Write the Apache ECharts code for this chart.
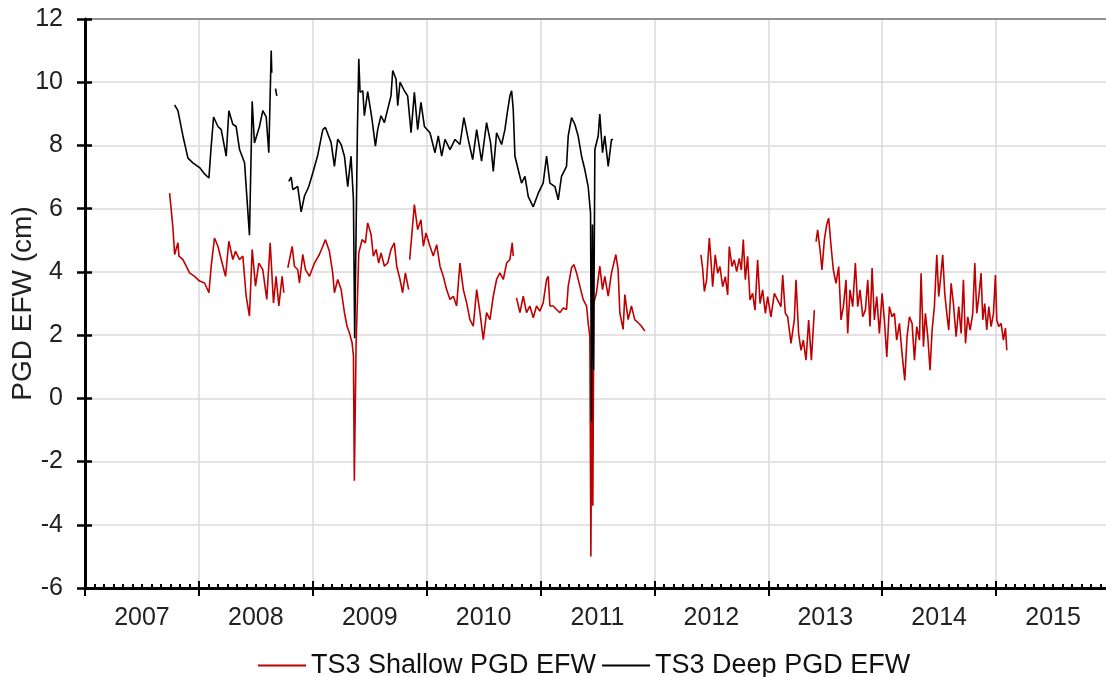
<!DOCTYPE html>
<html><head><meta charset="utf-8">
<script src="https://cdn.jsdelivr.net/npm/echarts@6/dist/echarts.min.js"></script>
<style>html,body{margin:0;padding:0;background:#fff}#c{width:1106px;height:677px}</style>
</head><body><div id="c"></div>
<script>
const yearLabels = ['2007','2008','2009','2010','2011','2012','2013','2014','2015'];
const xMin = 2007, xMax = 2016;
const yMin = -6, yMax = 12, yStep = 2;

// TS3 Shallow PGD EFW (null = data gap)
const shallowYears = [
2007.743,2007.772,2007.787,2007.816,2007.825,2007.860,2007.889,2007.918,2007.962,2008.006,2008.050,2008.088,2008.108,2008.137,2008.167,2008.196,2008.234,2008.263,2008.298,2008.322,2008.357,2008.386,2008.415,2008.444,2008.468,2008.497,2008.526,2008.561,2008.596,2008.626,2008.655,2008.678,2008.702,2008.731,2008.746,
2008.765,
2008.781,2008.819,2008.839,2008.868,2008.883,2008.912,2008.936,2008.971,2009.015,2009.058,2009.088,2009.111,2009.146,2009.175,2009.190,2009.219,2009.249,2009.278,2009.301,2009.322,2009.345,2009.357,2009.365,2009.380,2009.404,2009.433,2009.462,2009.482,2009.512,2009.532,2009.556,2009.579,2009.599,2009.629,2009.658,2009.687,2009.716,2009.737,2009.766,2009.789,2009.813,2009.842,
2009.846,
2009.851,2009.892,2009.921,2009.950,2009.971,2009.994,2010.029,2010.058,2010.088,2010.117,2010.146,2010.175,2010.205,2010.234,2010.263,2010.292,2010.322,2010.351,2010.380,2010.409,2010.439,2010.468,2010.497,2010.526,2010.556,2010.585,2010.614,2010.643,2010.673,2010.702,2010.731,2010.751,2010.760,
2010.775,
2010.789,2010.819,2010.848,2010.877,2010.906,2010.936,2010.965,2010.994,2011.023,2011.053,2011.067,2011.082,2011.111,2011.140,2011.170,2011.199,2011.228,2011.243,2011.272,2011.292,2011.316,2011.345,2011.374,2011.404,2011.418,2011.433,2011.442,2011.450,2011.459,2011.468,2011.491,2011.520,2011.544,2011.564,2011.594,2011.623,2011.661,2011.681,2011.696,2011.725,2011.740,2011.769,2011.798,2011.827,2011.857,2011.886,2011.915,
2012.100,
2012.408,2012.423,2012.438,2012.458,2012.482,2012.496,2012.511,2012.534,2012.555,2012.575,2012.599,2012.622,2012.643,2012.657,2012.681,2012.701,2012.722,2012.745,2012.763,2012.780,2012.798,2012.818,2012.839,2012.862,2012.883,2012.906,2012.927,2012.950,2012.974,2012.994,2013.023,2013.053,2013.082,2013.111,2013.126,2013.149,2013.170,2013.199,2013.228,2013.243,2013.266,2013.287,2013.307,2013.331,2013.354,2013.378,2013.404,
2013.411,
2013.419,2013.433,2013.454,2013.471,2013.492,2013.512,2013.530,2013.551,2013.571,2013.594,2013.618,2013.638,2013.659,2013.682,2013.697,2013.717,2013.741,2013.764,2013.785,2013.805,2013.829,2013.852,2013.873,2013.893,2013.911,2013.931,2013.952,2013.975,2013.999,2014.019,2014.040,2014.063,2014.086,2014.107,2014.127,2014.151,2014.174,2014.198,2014.218,2014.239,2014.262,2014.283,2014.303,2014.327,2014.341,2014.362,2014.379,2014.400,2014.420,2014.438,2014.458,2014.479,2014.496,2014.514,2014.531,2014.549,2014.567,2014.584,2014.605,2014.625,2014.649,2014.672,2014.693,2014.713,2014.731,2014.751,2014.772,2014.795,2014.813,2014.830,2014.848,2014.868,2014.883,2014.900,2014.918,2014.936,2014.956,2014.977,2014.994,2015.006,2015.023,2015.044,2015.064,2015.082,2015.094
];
const shallowValues = [
6.49,5.39,4.55,4.92,4.50,4.39,4.18,3.97,3.86,3.71,3.65,3.34,4.18,5.07,4.81,4.39,3.86,4.97,4.39,4.65,4.39,4.50,3.23,2.60,4.71,3.55,4.28,4.07,3.13,4.92,3.02,3.86,2.92,3.86,3.34,
null,
4.13,4.81,4.18,4.07,3.65,4.55,4.07,3.86,4.28,4.55,4.81,5.02,4.65,3.97,3.34,3.76,3.44,2.71,2.28,2.07,1.76,1.34,-2.61,1.65,4.60,5.02,4.92,5.55,5.18,4.50,4.71,4.28,4.60,4.18,4.28,4.71,4.92,4.18,3.76,3.34,3.97,3.44,
null,
4.39,6.13,5.34,5.65,4.81,5.23,4.81,4.50,4.86,4.18,3.86,3.44,3.13,3.23,2.92,4.28,3.44,3.02,2.49,2.28,3.44,2.71,1.86,2.71,2.49,3.23,3.76,3.97,3.76,4.28,4.39,4.92,4.50,
null,
3.18,2.71,3.23,2.71,2.92,2.55,2.92,2.76,3.02,3.76,3.86,2.92,2.92,2.81,2.71,2.86,2.81,3.55,4.13,4.23,3.97,3.55,3.13,2.92,2.39,1.97,-5.00,0.90,-3.40,3.02,3.34,4.18,3.44,3.86,3.23,3.97,4.55,4.07,2.71,2.18,3.28,2.49,2.92,2.49,2.39,2.28,2.13,
null,
4.54,4.12,3.38,3.75,5.07,4.38,3.53,4.54,3.96,4.17,3.53,3.85,3.27,4.80,4.17,4.38,4.01,4.43,4.06,5.02,3.75,4.49,3.11,3.32,2.79,4.38,3.00,3.43,2.69,3.22,2.58,3.32,3.11,2.90,3.90,2.69,2.58,1.74,2.48,3.75,2.05,1.52,1.84,1.21,2.48,1.21,2.79,
null,
4.96,5.33,4.70,4.06,5.02,5.49,5.70,4.80,4.06,3.64,4.17,2.48,2.90,3.75,2.05,3.43,2.90,4.28,2.90,3.43,2.58,2.79,3.75,2.27,4.12,2.48,3.22,2.05,3.32,2.48,1.31,2.90,2.58,2.69,1.84,2.37,1.42,0.57,1.95,2.58,2.37,1.21,2.27,1.84,3.96,1.63,2.69,1.95,0.89,2.16,2.90,4.54,3.22,3.85,4.54,3.32,2.69,2.16,3.64,3.00,1.95,2.90,2.05,3.75,1.74,2.58,2.16,2.69,4.28,2.69,3.22,3.96,2.48,3.00,2.16,2.90,2.27,2.69,3.90,2.48,2.27,2.37,1.84,2.22,1.52
];

// TS3 Deep PGD EFW (null = data gap)
const deepYears = [
2007.787,2007.816,2007.860,2007.904,2007.947,2008.006,2008.050,2008.088,2008.108,2008.129,2008.167,2008.196,2008.240,2008.263,2008.298,2008.327,2008.357,2008.401,2008.444,2008.468,2008.488,2008.532,2008.561,2008.591,2008.614,2008.635,2008.640,
2008.660,
2008.673,2008.684,
2008.740,
2008.789,2008.810,2008.825,2008.868,2008.898,2008.927,2008.965,2009.000,2009.044,2009.088,2009.111,2009.161,2009.190,2009.219,2009.249,2009.278,2009.307,2009.336,2009.357,2009.368,2009.392,2009.404,2009.415,2009.439,2009.453,2009.482,2009.497,2009.520,2009.550,2009.570,2009.599,2009.629,2009.658,2009.687,2009.702,2009.731,2009.746,2009.766,2009.804,2009.833,2009.863,2009.892,2009.921,2009.950,2009.980,2010.029,2010.073,2010.102,2010.132,2010.161,2010.205,2010.249,2010.292,2010.327,2010.365,2010.404,2010.439,2010.482,2010.526,2010.561,2010.585,2010.614,2010.658,2010.687,2010.708,2010.731,2010.746,2010.760,2010.775,2010.804,2010.833,2010.863,2010.892,2010.936,2010.980,2011.023,2011.053,2011.082,2011.126,2011.155,2011.184,2011.228,2011.243,2011.272,2011.301,2011.330,2011.360,2011.389,2011.418,2011.439,2011.447,2011.456,2011.465,2011.477,2011.506,2011.520,2011.544,2011.564,2011.594,2011.623,2011.637
];
const deepValues = [
9.28,9.10,8.30,7.60,7.45,7.30,7.10,6.97,7.98,8.90,8.60,8.50,7.66,9.10,8.67,8.60,7.87,7.45,5.16,9.40,8.08,8.60,9.10,8.90,7.77,11.00,10.30,
null,
9.80,9.57,
null,
6.86,7.00,6.60,6.70,5.90,6.40,6.70,7.13,7.70,8.50,8.57,8.09,7.34,8.20,8.03,7.66,6.70,7.66,6.28,1.90,8.50,10.74,9.68,9.73,8.94,9.70,9.36,8.83,7.98,8.50,8.94,8.72,9.15,9.57,10.37,10.10,9.26,10.00,9.73,9.57,8.40,9.68,8.50,9.36,8.60,8.40,7.77,8.30,7.66,8.19,7.87,8.19,8.03,8.88,8.19,7.55,8.50,7.50,8.72,8.09,7.18,8.40,8.03,8.50,9.04,9.57,9.73,9.15,7.66,7.23,6.81,7.02,6.38,6.06,6.49,6.81,7.66,6.81,6.70,6.28,7.02,7.34,8.30,8.88,8.67,8.30,7.66,7.23,6.70,5.85,-0.73,5.50,0.90,7.87,8.30,8.99,7.77,8.30,7.34,8.19,8.19
];

function pairs(xs, ys) {
  return xs.map((x, i) => [x, ys[i] === null ? '-' : ys[i]]);
}

const chart = echarts.init(document.getElementById('c'), null, {renderer: 'canvas'});
const FONT = '"Liberation Sans", Arial, sans-serif';
chart.setOption({
  animation: false,
  backgroundColor: '#fff',
  grid: {left: 85, top: 19, width: 1025, height: 569, containLabel: false, outerBoundsMode: 'none'},
  legend: {
    left: 253, top: 647, itemWidth: 48, itemHeight: 2, itemGap: 6, icon: 'rect',
    textStyle: {fontSize: 27, color: '#111', fontFamily: FONT},
    data: ['TS3 Shallow PGD EFW', 'TS3 Deep PGD EFW']
  },
  xAxis: [
    {
      type: 'value', min: xMin, max: xMax, interval: 1, position: 'bottom',
      axisLine: {onZero: false, lineStyle: {color: '#000', width: 3}},
      axisTick: {show: true, inside: true, length: 7, lineStyle: {color: '#000', width: 2}},
      minorTick: {show: true, splitNumber: 12, length: 4, lineStyle: {color: '#000', width: 2}},
      axisLabel: {show: false},
      splitLine: {show: true, lineStyle: {color: '#dadada', width: 1.5}}
    },
    {
      type: 'category', data: yearLabels, boundaryGap: true, position: 'bottom',
      axisLine: {show: false, onZero: false},
      axisTick: {show: true, inside: false, length: 8, interval: 0, lineStyle: {color: '#000', width: 2}},
      axisLabel: {show: true, interval: 0, fontSize: 25, color: '#222', margin: 18, fontFamily: FONT},
      splitLine: {show: false}
    },
    {
      type: 'value', min: xMin, max: xMax, position: 'top',
      axisLine: {show: true, onZero: false, lineStyle: {color: '#777', width: 1.5}},
      axisTick: {show: false}, axisLabel: {show: false}, splitLine: {show: false}
    }
  ],
  yAxis: [
    {
      type: 'value', min: yMin, max: yMax, interval: yStep, position: 'left',
      name: 'PGD EFW (cm)', nameLocation: 'middle', nameGap: 48, nameMoveOverlap: false,
      nameTextStyle: {fontSize: 28, color: '#222', fontFamily: FONT},
      axisLine: {show: true, onZero: false, lineStyle: {color: '#000', width: 3}},
      axisTick: {show: true, inside: false, length: 8, lineStyle: {color: '#000', width: 2.5}},
      axisLabel: {fontSize: 25, color: '#222', margin: 22, fontFamily: FONT},
      splitLine: {show: true, lineStyle: {color: '#dadada', width: 1.5}}
    },
    {
      type: 'value', min: yMin, max: yMax, interval: yStep, position: 'left',
      axisLine: {show: false, onZero: false},
      axisTick: {show: true, inside: true, length: 7, lineStyle: {color: '#000', width: 2.5}},
      axisLabel: {show: false}, splitLine: {show: false}
    }
  ],
  series: [
    {
      name: 'TS3 Shallow PGD EFW', type: 'line', xAxisIndex: 0, yAxisIndex: 0,
      data: pairs(shallowYears, shallowValues), symbol: 'none', showSymbol: false,
      connectNulls: false, lineStyle: {color: '#c00000', width: 1.6}, itemStyle: {color: '#c00000'}
    },
    {
      name: 'TS3 Deep PGD EFW', type: 'line', xAxisIndex: 0, yAxisIndex: 0,
      data: pairs(deepYears, deepValues), symbol: 'none', showSymbol: false,
      connectNulls: false, lineStyle: {color: '#000', width: 1.6}, itemStyle: {color: '#000'}
    }
  ]
});
</script></body></html>
